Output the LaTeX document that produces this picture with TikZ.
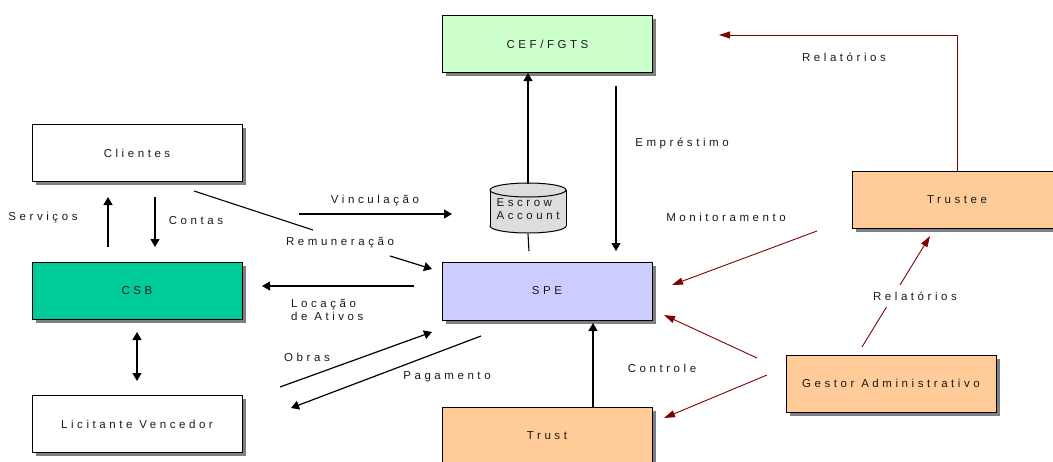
\documentclass[tikz,border=0pt]{standalone}
\usepackage{fontspec}
\newfontfamily\lbl[LetterSpace=31]{Liberation Sans}
\usetikzlibrary{arrows.meta,shadows}
\definecolor{cefg}{HTML}{CCFFCC}
\definecolor{csbg}{HTML}{00CC99}
\definecolor{spec}{HTML}{CCCCFF}
\definecolor{org}{HTML}{FFCC99}
\definecolor{dred}{HTML}{800000}
\definecolor{cylg}{HTML}{DDDDDD}
\definecolor{txt}{HTML}{1A1A1A}
\begin{document}
\begin{tikzpicture}[x=1pt,y=-1pt,
  lab/.style={font=\lbl\fontsize{11.5}{13}\selectfont, text=txt, inner sep=1pt},
  box/.style={draw=black, line width=1pt, minimum width=210pt, minimum height=57pt, inner sep=0pt,
    font=\lbl\fontsize{11.5}{13}\selectfont, text=txt,
    drop shadow={shadow xshift=3.5pt, shadow yshift=-3.5pt, fill=black!50, opacity=1}},
  arr/.style={line width=1.2pt, -{Triangle[length=8pt,width=9pt]}},
  darr/.style={line width=1.2pt, {Triangle[length=8pt,width=9pt]}-{Triangle[length=8pt,width=9pt]}},
  ln/.style={line width=1.1pt},
  rarr/.style={draw=dred, line width=0.9pt, -{Triangle[length=11pt,width=7pt]}, color=dred}]
\useasboundingbox (0,0) rectangle (1053,461);
\fill[white] (0,0) rectangle (1053,461);

% boxes
\node[box, fill=cefg] (cef) at (547.5,44) {CEF/FGTS};
\node[box, fill=white] (cli) at (137,153) {Clientes};
\node[box, fill=csbg] (csb) at (137,291) {CSB};
\node[box, fill=white] (lic) at (137,424) {Licitante Vencedor};
\node[box, fill=spec, minimum height=58pt] (spe) at (547,291) {SPE};
\node[box, fill=org, minimum height=58pt] (trust) at (547,436) {Trust};
\node[box, fill=org] (trustee) at (957,199.5) {Trustee};
\node[box, fill=org] (gestor) at (891,383.5) {Gestor Administrativo};

% escrow cylinder
\filldraw[fill=cylg, line width=1pt] (528,226) ellipse (38 and 7);
\fill[cylg] (490,190) rectangle (566,226);
\draw[line width=1pt] (490,190) -- (490,226) (566,190) -- (566,226);
\filldraw[fill=cylg, line width=1pt] (528,190) ellipse (38 and 7);
\node[lab, align=left, minimum width=76pt, minimum height=50pt, inner sep=0pt] (escrow) at (528,209) {Escrow\\Account};

% coordinates for free ends
\coordinate (speTop) at (529,251);
\coordinate (empA) at (616,86);
\coordinate (empB) at (616,251);
\coordinate (relTip) at (719,35);
\coordinate (monA) at (817,231);
\coordinate (monB) at (672,285);
\coordinate (gA) at (757,358);
\coordinate (gB) at (664,315);
\coordinate (gC) at (767,375);
\coordinate (gD) at (664,418);
\coordinate (r2A) at (862,347);
\coordinate (r2B) at (930,236);
\coordinate (ctrlTip) at (593,323);
\coordinate (obA) at (280,387);
\coordinate (obB) at (432,332);
\coordinate (pgA) at (481,336);
\coordinate (pgB) at (291,408);
\coordinate (locA) at (414,286);
\coordinate (locB) at (262,286);
\coordinate (vinA) at (299,214);
\coordinate (vinB) at (452,214);
\coordinate (svA) at (108,247);
\coordinate (svB) at (108,197);
\coordinate (ctA) at (155,197);
\coordinate (ctB) at (155,247);
\coordinate (dA) at (137,332);
\coordinate (dB) at (137,381);
\coordinate (remA) at (194,191);
\coordinate (remB) at (313,230);
\coordinate (remC) at (390,256);
\coordinate (remD) at (432,269);

% black connectors
\draw[arr] (escrow.north) -- (cef.south -| escrow.north);
\draw[ln] (speTop) -- (escrow.south);
\draw[arr] (empA) -- (empB);
\draw[arr] (trust.north -| ctrlTip) -- (ctrlTip);
\draw[arr] (obA) -- (obB);
\draw[arr] (pgA) -- (pgB);
\draw[arr] (locA) -- (locB);
\draw[arr] (vinA) -- (vinB);
\draw[arr] (svA) -- (svB);
\draw[arr] (ctA) -- (ctB);
\draw[darr] (dA) -- (dB);
\draw[ln] (remA) -- (remB);
\draw[arr] (remC) -- (remD);

% red connectors
\draw[rarr] (trustee.north) |- (relTip);
\draw[rarr] (monA) -- (monB);
\draw[rarr] (gA) -- (gB);
\draw[rarr] (gC) -- (gD);
\draw[rarr] (r2A) -- (r2B);

% labels
\node[lab] (lSer) at (43,218) {Serviços};
\node[lab] (lCon) at (196,221) {Contas};
\node[lab] (lVin) at (375,201) {Vinculação};
\node[lab] (lRem) at (340,243) {Remuneração};
\node[lab, align=left, anchor=west] (lLoc) at (290,309.5) {Locação\\de Ativos};
\node[lab] (lObr) at (307,357) {Obras};
\node[lab] (lPag) at (447,377) {Pagamento};
\node[lab] (lCtl) at (662,368) {Controle};
\node[lab] (lMon) at (726,217) {Monitoramento};
\node[lab] (lEmp) at (682,143) {Empréstimo};
\node[lab] (lRel) at (844,57) {Relatórios};
\node[lab, fill=white, inner xsep=4pt, inner ysep=7pt] (lRel2) at (915,296) {Relatórios};
\end{tikzpicture}
\end{document}
